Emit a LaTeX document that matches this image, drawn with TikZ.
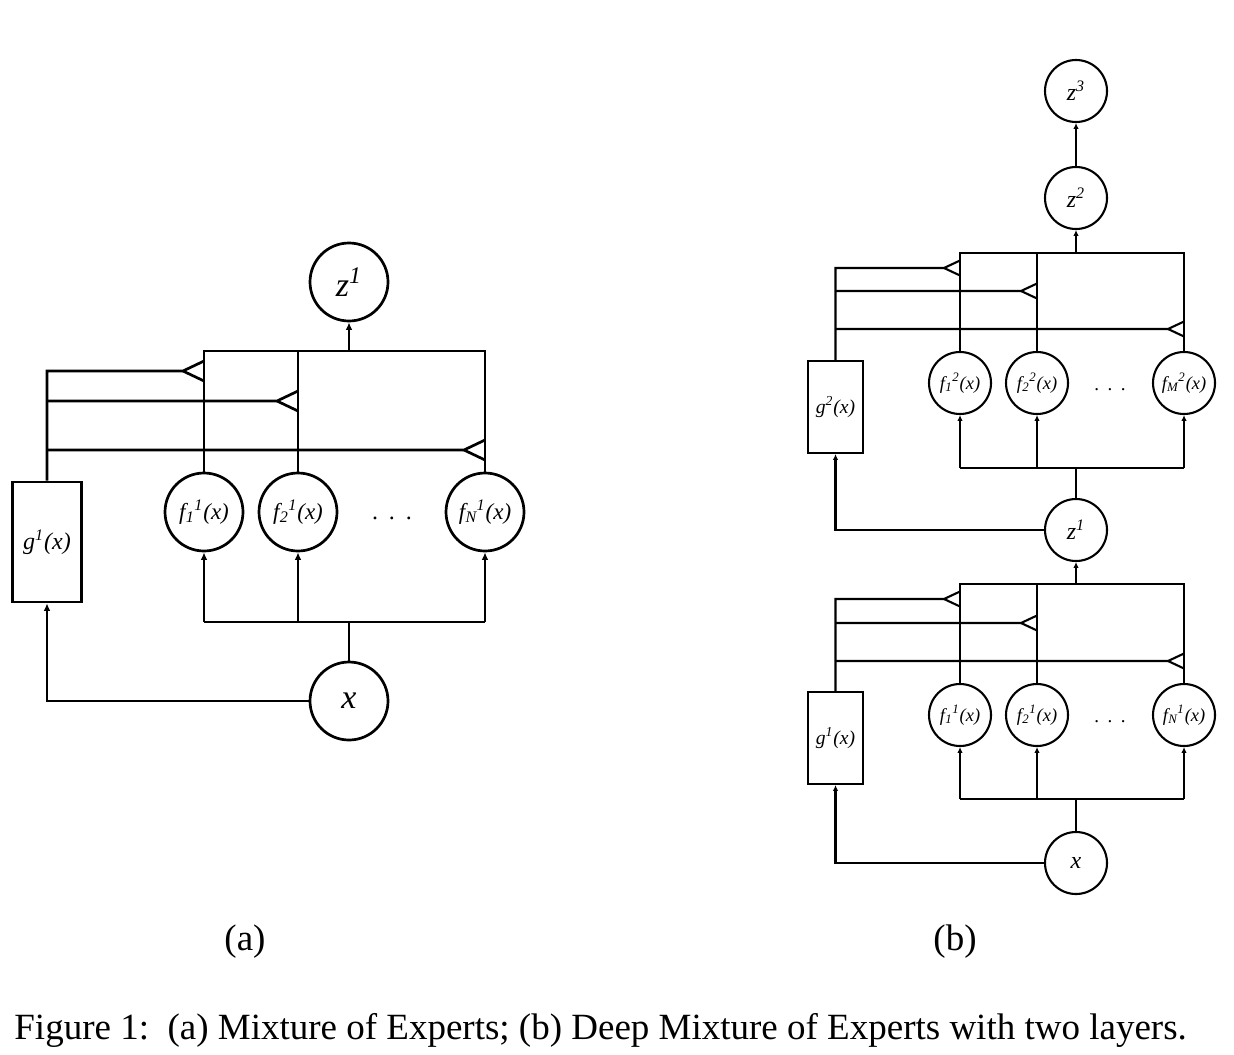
\documentclass[tikz,border=0pt]{standalone}
\usepackage{fontspec}
\setmainfont{Liberation Serif}
\usetikzlibrary{arrows.meta}
\newcommand{\ssb}[2]{\kern0.02em\textsubscript{#1}\kern-0.03em\textsuperscript{#2}}
\newcommand{\spdots}{.\hspace{0.45em}.\hspace{0.45em}.}
\tikzset{
  lnA/.style={line width=1.35pt},
  arrA/.style={lnA,-{Latex[length=3.8pt,width=3.4pt]}},
  circA/.style={circle,draw,lnA,minimum size=39pt,inner sep=0pt,font=\fontsize{11.5}{14}\selectfont\itshape},
  bigA/.style={circA,font=\fontsize{17}{19}\selectfont\itshape},
  boxA/.style={rectangle,draw,lnA,minimum width=34.5pt,minimum height=60pt,inner sep=0pt,font=\fontsize{12}{14}\selectfont\itshape},
  lnB/.style={line width=1.05pt},
  arrB/.style={lnB,-{Latex[length=2.9pt,width=2.7pt]}},
  circB/.style={circle,draw,lnB,minimum size=31pt,inner sep=0pt,font=\fontsize{9.2}{11}\selectfont\itshape},
  bigB/.style={circB,font=\fontsize{12}{14}\selectfont\itshape},
  boxB/.style={rectangle,draw,lnB,minimum width=27.5pt,minimum height=46pt,inner sep=0pt,font=\fontsize{9.8}{12}\selectfont\itshape},
  dotsA/.style={font=\fontsize{12}{14}\selectfont,inner sep=0pt},
  dotsB/.style={font=\fontsize{9.5}{12}\selectfont,inner sep=0pt},
  capt/.style={font=\fontsize{18.5}{21}\selectfont,inner sep=0pt}
}
\begin{document}
\begin{tikzpicture}[x=0.5pt,y=-0.5pt]
\useasboundingbox (0,0) rectangle (1234,1054);
% ---------------- panel (a) ----------------
\node[bigA] (aZ) at (349,282) {z\textsuperscript{1}};
\node[circA] (aF1) at (204,512) {f\ssb{1}{1}(x)};
\node[circA] (aF2) at (298,512) {f\ssb{2}{1}(x)};
\node[circA] (aFN) at (485,512) {f\ssb{N}{1}(x)};
\node[dotsA] (aD) at (392,518) {\spdots};
\node[boxA] (aG) at (47,542) {g\textsuperscript{1}(x)};
\node[bigA] (aX) at (349,701) {x};
% top bus
\draw[lnA] (aF1.north) -- (aF1.north |- 0,351) -- (aFN.north |- 0,351) -- (aFN.north);
\draw[lnA] (aF2.north) -- (aF2.north |- 0,351);
\draw[arrA] (aZ.south |- 0,351) -- (aZ.south);
% gates
\coordinate (aV1) at (aF1.north |- 0,371);
\coordinate (aV2) at (aF2.north |- 0,401);
\coordinate (aV3) at (aFN.north |- 0,450);
\draw[lnA] (aG.north) -- (aG.north |- aV1) -- ([xshift=-10.5pt]aV1) -- ([yshift=5pt]aV1);
\draw[lnA] ([xshift=-10.5pt]aV1) -- ([yshift=-5pt]aV1);
\draw[lnA] (aG.north |- aV2) -- ([xshift=-10.5pt]aV2) -- ([yshift=5pt]aV2);
\draw[lnA] ([xshift=-10.5pt]aV2) -- ([yshift=-5pt]aV2);
\draw[lnA] (aG.north |- aV3) -- ([xshift=-10.5pt]aV3) -- ([yshift=5pt]aV3);
\draw[lnA] ([xshift=-10.5pt]aV3) -- ([yshift=-5pt]aV3);
% bottom bus
\draw[lnA] (aX.north) -- (aX.north |- 0,622);
\draw[lnA] (aF1.south |- 0,622) -- (aFN.south |- 0,622);
\draw[arrA] (aF1.south |- 0,622) -- (aF1.south);
\draw[arrA] (aF2.south |- 0,622) -- (aF2.south);
\draw[arrA] (aFN.south |- 0,622) -- (aFN.south);
\draw[arrA] (aX.west) -| (aG.south);
% ---------------- panel (b) ----------------
\node[bigB] (bZ3) at (1076,91) {z\textsuperscript{3}};
\node[bigB] (bZ2) at (1076,198) {z\textsuperscript{2}};
\node[circB] (bF21) at (960,383) {f\ssb{1}{2}(x)};
\node[circB] (bF22) at (1037,383) {f\ssb{2}{2}(x)};
\node[circB] (bF2M) at (1184,383) {f\ssb{M}{2}(x)};
\node[dotsB] (bD2) at (1110,390) {\spdots};
\node[boxB] (bG2) at (835.5,407) {g\textsuperscript{2}(x)};
\node[bigB] (bZ1) at (1076,530) {z\textsuperscript{1}};
\node[circB] (bF11) at (960,715) {f\ssb{1}{1}(x)};
\node[circB] (bF12) at (1037,715) {f\ssb{2}{1}(x)};
\node[circB] (bF1N) at (1184,715) {f\ssb{N}{1}(x)};
\node[dotsB] (bD1) at (1110,722) {\spdots};
\node[boxB] (bG1) at (835.5,738) {g\textsuperscript{1}(x)};
\node[bigB] (bX) at (1076,863) {x};
\draw[arrB] (bZ2) -- (bZ3);
% upper layer
\draw[lnB] (bF21.north) -- (bF21.north |- 0,253) -- (bF2M.north |- 0,253) -- (bF2M.north);
\draw[lnB] (bF22.north) -- (bF22.north |- 0,253);
\draw[arrB] (bZ2.south |- 0,253) -- (bZ2.south);
\coordinate (bU1) at (bF21.north |- 0,268);
\coordinate (bU2) at (bF22.north |- 0,291);
\coordinate (bU3) at (bF2M.north |- 0,329);
\draw[lnB] (bG2.north) -- (bG2.north |- bU1) -- ([xshift=-8pt]bU1) -- ([yshift=3.75pt]bU1);
\draw[lnB] ([xshift=-8pt]bU1) -- ([yshift=-3.75pt]bU1);
\draw[lnB] (bG2.north |- bU2) -- ([xshift=-8pt]bU2) -- ([yshift=3.75pt]bU2);
\draw[lnB] ([xshift=-8pt]bU2) -- ([yshift=-3.75pt]bU2);
\draw[lnB] (bG2.north |- bU3) -- ([xshift=-8pt]bU3) -- ([yshift=3.75pt]bU3);
\draw[lnB] ([xshift=-8pt]bU3) -- ([yshift=-3.75pt]bU3);
\draw[lnB] (bZ1.north) -- (bZ1.north |- 0,468);
\draw[lnB] (bF21.south |- 0,468) -- (bF2M.south |- 0,468);
\draw[arrB] (bF21.south |- 0,468) -- (bF21.south);
\draw[arrB] (bF22.south |- 0,468) -- (bF22.south);
\draw[arrB] (bF2M.south |- 0,468) -- (bF2M.south);
\draw[arrB] (bZ1.west) -| (bG2.south);
% lower layer
\draw[lnB] (bF11.north) -- (bF11.north |- 0,584) -- (bF1N.north |- 0,584) -- (bF1N.north);
\draw[lnB] (bF12.north) -- (bF12.north |- 0,584);
\draw[arrB] (bZ1.south |- 0,584) -- (bZ1.south);
\coordinate (bL1) at (bF11.north |- 0,599);
\coordinate (bL2) at (bF12.north |- 0,623);
\coordinate (bL3) at (bF1N.north |- 0,661);
\draw[lnB] (bG1.north) -- (bG1.north |- bL1) -- ([xshift=-8pt]bL1) -- ([yshift=3.75pt]bL1);
\draw[lnB] ([xshift=-8pt]bL1) -- ([yshift=-3.75pt]bL1);
\draw[lnB] (bG1.north |- bL2) -- ([xshift=-8pt]bL2) -- ([yshift=3.75pt]bL2);
\draw[lnB] ([xshift=-8pt]bL2) -- ([yshift=-3.75pt]bL2);
\draw[lnB] (bG1.north |- bL3) -- ([xshift=-8pt]bL3) -- ([yshift=3.75pt]bL3);
\draw[lnB] ([xshift=-8pt]bL3) -- ([yshift=-3.75pt]bL3);
\draw[lnB] (bX.north) -- (bX.north |- 0,799);
\draw[lnB] (bF11.south |- 0,799) -- (bF1N.south |- 0,799);
\draw[arrB] (bF11.south |- 0,799) -- (bF11.south);
\draw[arrB] (bF12.south |- 0,799) -- (bF12.south);
\draw[arrB] (bF1N.south |- 0,799) -- (bF1N.south);
\draw[arrB] (bX.west) -| (bG1.south);
% ---------------- labels ----------------
\node[capt] (la) at (245,942) {(a)};
\node[capt] (lb) at (955,942) {(b)};
\node[capt,anchor=west] (cap) at (14,1030) {Figure 1:\ \ (a) Mixture of Experts; (b) Deep Mixture of Experts with two layers.};
\end{tikzpicture}
\end{document}
